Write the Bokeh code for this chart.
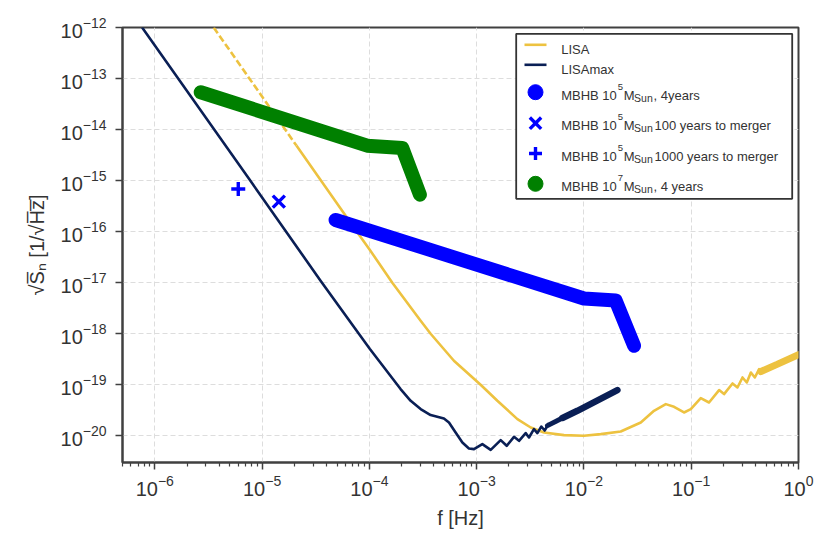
import numpy as np
from bokeh.plotting import figure
from bokeh.models import FixedTicker, BoxAnnotation, Label, LogTickFormatter
from bokeh.embed import file_html
from bokeh.resources import INLINE

# ---------------- data (log10 values) ----------------
# LISA sensitivity, dashed low-frequency part
LISA_DASH_LOGF = [-5.451, -5.17, -4.68]
LISA_DASH_LOGS = [-12.0, -12.843, -14.313]
# LISA sensitivity, solid part
LISA_LOGF = [-4.68, -4.252, -4.128, -3.995, -3.786, -3.522, -3.429, -3.212, -2.963,
             -2.807, -2.62, -2.496, -2.372, -2.186, -2.0, -1.843, -1.657, -1.47,
             -1.347, -1.237, -1.16, -1.067, -1.004, -0.911, -0.834, -0.740, -0.694,
             -0.615, -0.569, -0.522, -0.482, -0.444, -0.407, -0.367, -0.336]
LISA_LOGS = [-14.313, -15.597, -15.969, -16.359, -17.0, -17.745, -18.0, -18.529, -19.0,
             -19.314, -19.673, -19.837, -19.935, -19.986, -20.0, -19.967, -19.915, -19.739,
             -19.51, -19.379, -19.431, -19.543, -19.476, -19.261, -19.347, -19.104, -19.182,
             -18.975, -19.053, -18.857, -18.955, -18.759, -18.857, -18.692, -18.790]
# LISA dense-oscillation region (band centre)
LISA_BAND_LOGF = [-0.35, -0.2, 0.0]
LISA_BAND_LOGS = [-18.74, -18.60, -18.41]

# LISAmax sensitivity
LMAX_LOGF = [-6.118, -5.117, -4.455, -4.098, -3.995, -3.709, -3.615, -3.522, -3.429,
             -3.305, -3.258, -3.196, -3.133, -3.072, -3.025, -2.947, -2.869, -2.776,
             -2.720, -2.652, -2.605, -2.543, -2.512, -2.466, -2.434, -2.397, -2.366,
             -2.326]
LMAX_LOGS = [-12.0, -14.98, -16.961, -18.0, -18.30, -19.084, -19.314, -19.476, -19.594,
             -19.661, -19.739, -19.935, -20.131, -20.249, -20.261, -20.163, -20.275, -20.084,
             -20.196, -20.020, -20.098, -19.947, -20.033, -19.869, -19.947, -19.818, -19.896,
             -19.751]
# LISAmax dense-oscillation region (band centre), thinner then thicker part
LMAX_BAND1_LOGF = [-2.34, -2.2]
LMAX_BAND1_LOGS = [-19.80, -19.65]
LMAX_BAND2_LOGF = [-2.2, -2.061, -1.688]
LMAX_BAND2_LOGS = [-19.65, -19.51, -19.104]

# MBHB 1e5 Msun, 4 years
MB5_LOGF = [-4.315, -2.0, -1.704, -1.533]
MB5_LOGS = [-15.771, -17.31, -17.35, -18.235]
# MBHB 1e7 Msun, 4 years
MB7_LOGF = [-5.572, -4.02, -3.693, -3.529]
MB7_LOGS = [-13.268, -14.315, -14.36, -15.275]
# single points
X100_LOGF, X100_LOGS = [-4.844], [-15.412]
P1000_LOGF, P1000_LOGS = [-5.222], [-15.163]

X_TICKS = [1e-6, 1e-5, 1e-4, 1e-3, 1e-2, 1e-1, 1.0]
Y_TICKS = [1e-20, 1e-19, 1e-18, 1e-17, 1e-16, 1e-15, 1e-14, 1e-13, 1e-12]
X_MINOR = [k * 10.0 ** e for e in range(-7, 0) for k in range(2, 10)]

LISA_COL = "#EDC240"
LMAX_COL = "#0A1F55"
DARK = "#404040"
TXT = "#333333"
FONT = "Liberation Sans"


def p10(a):
    return (10.0 ** np.asarray(a, dtype=float)).tolist()


# ---------------- figure ----------------
X0, X1 = 5e-7, 1.0
Y0, Y1 = 3e-21, 1e-12
p = figure(width=822, height=539, x_axis_type="log", y_axis_type="log",
           x_range=(X0, X1), y_range=(Y0, Y1), output_backend="svg",
           toolbar_location=None, min_border_left=122, min_border_right=24,
           min_border_top=27, min_border_bottom=77)
p.background_fill_color = "white"
p.border_fill_color = "white"
p.outline_line_color = DARK
p.outline_line_width = 2

# frame geometry in pixels (for legend placement)
FL, FT, FW, FH = 122.0, 27.0, 676.0, 435.0
LX0, LX1 = np.log10(X0), np.log10(X1)
LY0, LY1 = np.log10(Y0), np.log10(Y1)


def px2x(px):
    return 10 ** (LX0 + (px - FL) / FW * (LX1 - LX0))


def px2y(py):
    return 10 ** (LY1 - (py - FT) / FH * (LY1 - LY0))


# grid
p.grid.grid_line_color = "#dddddd"
p.grid.grid_line_dash = "5 3"
p.grid.grid_line_width = 1

# axes
p.xaxis.ticker = FixedTicker(ticks=X_TICKS, minor_ticks=X_MINOR)
p.yaxis.ticker = FixedTicker(ticks=Y_TICKS, minor_ticks=[])
p.xaxis.formatter = LogTickFormatter()
p.yaxis.formatter = LogTickFormatter()
for ax in (p.xaxis, p.yaxis):
    ax.axis_line_color = DARK
    ax.axis_line_width = 2
    ax.major_tick_line_color = DARK
    ax.major_tick_line_width = 1.5
    ax.major_tick_out = 7
    ax.major_tick_in = 0
    ax.minor_tick_line_color = DARK
    ax.minor_tick_line_width = 1.2
    ax.minor_tick_out = 4
    ax.minor_tick_in = 0
    ax.major_label_text_font = FONT
    ax.major_label_text_font_size = "20px"
    ax.major_label_text_color = TXT
    ax.axis_label_text_font = FONT
    ax.axis_label_text_font_size = "20px"
    ax.axis_label_text_font_style = "normal"
    ax.axis_label_text_color = TXT
p.yaxis.minor_tick_line_color = None
p.xaxis.major_label_standoff = 5
p.yaxis.major_label_standoff = 9
p.xaxis.axis_label = "f [Hz]"
p.yaxis.axis_label = "\u221aS\u0305\u2099 [1/\u221aH\u0305z\u0305]"
p.xaxis.axis_label_standoff = 8
p.yaxis.axis_label_standoff = 10

# ---------------- curves ----------------
p.line(p10(LISA_DASH_LOGF), p10(LISA_DASH_LOGS), line_color=LISA_COL, line_width=2.6,
       line_dash="7 3")
p.line(p10(LISA_LOGF), p10(LISA_LOGS), line_color=LISA_COL, line_width=2.6,
       line_join="round")
p.line(p10(LISA_BAND_LOGF), p10(LISA_BAND_LOGS), line_color=LISA_COL, line_width=7,
       line_cap="round")
p.line(p10(LMAX_LOGF), p10(LMAX_LOGS), line_color=LMAX_COL, line_width=2.6,
       line_join="round")
p.line(p10(LMAX_BAND1_LOGF), p10(LMAX_BAND1_LOGS), line_color=LMAX_COL, line_width=5,
       line_cap="round")
p.line(p10(LMAX_BAND2_LOGF), p10(LMAX_BAND2_LOGS), line_color=LMAX_COL, line_width=6.5,
       line_cap="round")

p.line(p10(MB5_LOGF), p10(MB5_LOGS), line_color="blue", line_width=14,
       line_cap="round", line_join="round")
p.line(p10(MB7_LOGF), p10(MB7_LOGS), line_color="green", line_width=14,
       line_cap="round", line_join="round")
p.scatter(p10(X100_LOGF), p10(X100_LOGS), marker="x", size=17, line_color="blue",
          line_width=3.4)
p.scatter(p10(P1000_LOGF), p10(P1000_LOGS), marker="cross", size=14, line_color="blue",
          line_width=3.4)

# ---------------- legend (built by hand for super/subscripts) ----------------
p.add_layout(BoxAnnotation(left=px2x(515.7), right=px2x(791.7), top=px2y(33.3),
                           bottom=px2y(198.3), fill_color="white", fill_alpha=1.0,
                           line_color="#333333", line_width=1.8, line_alpha=1.0))

p.line([px2x(524), px2x(546)], [px2y(44.3)] * 2, line_color=LISA_COL, line_width=2.6,
       level="overlay")
p.line([px2x(524), px2x(546)], [px2y(64.3)] * 2, line_color=LMAX_COL, line_width=2.6,
       level="overlay")
p.scatter([px2x(535)], [px2y(91.7)], marker="circle", size=15, fill_color="blue",
          line_color="blue", level="overlay")
p.scatter([px2x(535)], [px2y(122.7)], marker="x", size=16, line_color="blue",
          line_width=3.4, level="overlay")
p.scatter([px2x(535)], [px2y(153)], marker="cross", size=13, line_color="blue",
          line_width=3.4, level="overlay")
p.scatter([px2x(535)], [px2y(183.3)], marker="circle", size=15, fill_color="green",
          line_color="green", level="overlay")


def lab(px, py, text, size="13px"):
    p.add_layout(Label(x=px2x(px), y=px2y(py), text=text, text_font=FONT,
                       text_font_size=size, text_color=TXT, text_align="left",
                       text_baseline="alphabetic"))


lab(560.7, 49.0, "LISA")
lab(560.7, 68.5, "LISAmax")
ROWS = [(95.0, "5", ", 4years", 653.0),
        (125.2, "5", "100 years to merger", 654.0),
        (155.7, "5", "1000 years to merger", 654.0),
        (185.7, "7", ", 4 years", 653.0)]
for base, exp, tail, tx in ROWS:
    lab(560.7, base, "MBHB 10")
    lab(617.3, base - 8.3, exp, "9.5px")
    lab(623.3, base, "M")
    lab(633.6, base + 2.7, "Sun", "10.5px")
    lab(tx, base, tail)

open("out.html", "w").write(file_html(p, INLINE))
